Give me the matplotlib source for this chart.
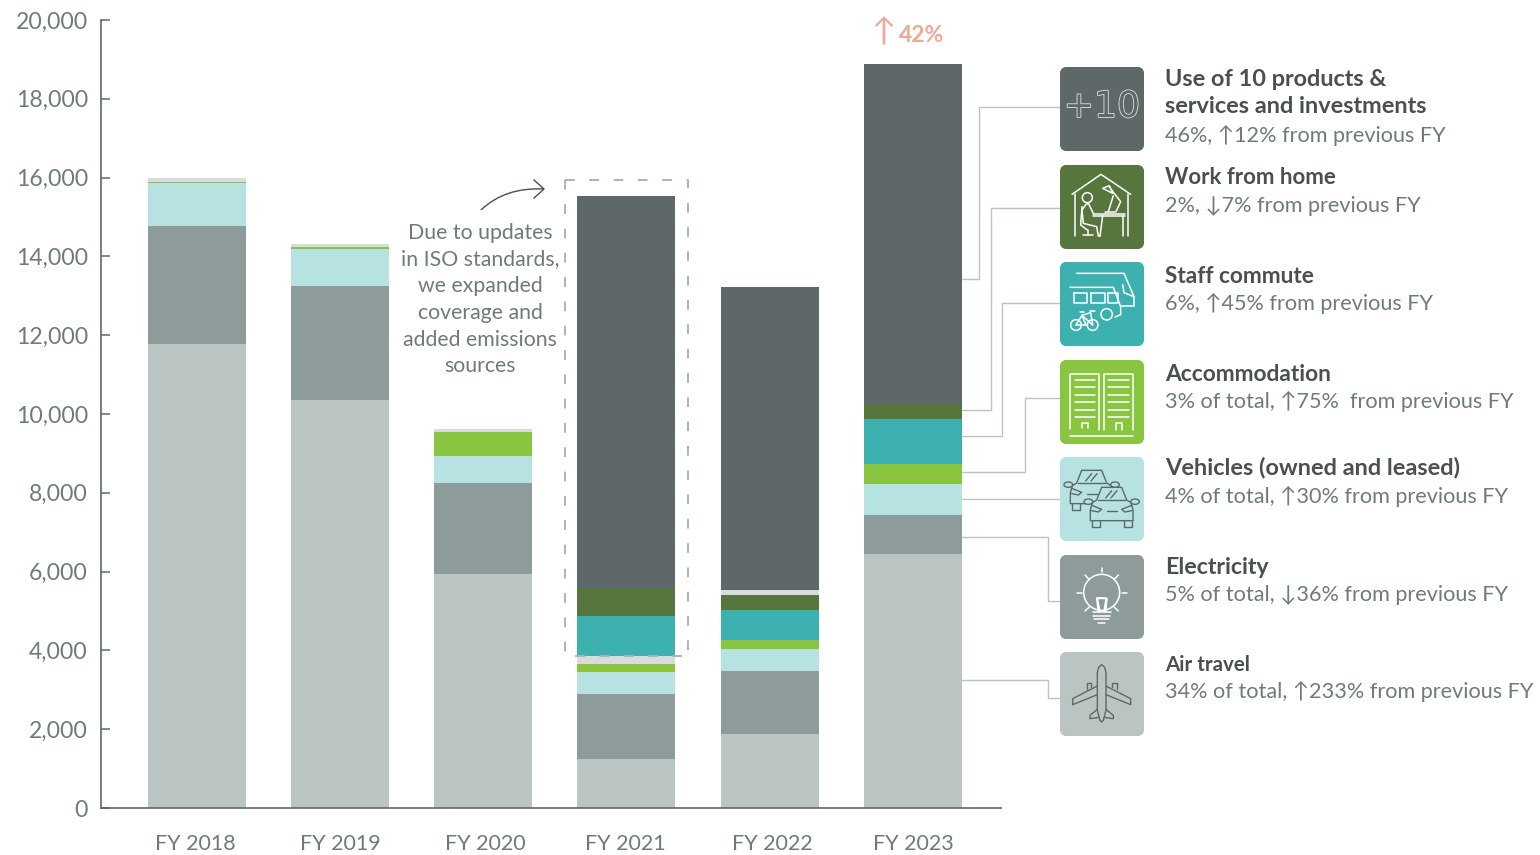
import numpy as np
import matplotlib
matplotlib.use('Agg')
import matplotlib.pyplot as plt
from matplotlib.patches import PathPatch, Circle, Rectangle, Ellipse, Polygon
from matplotlib.path import Path
from matplotlib.transforms import ScaledTranslation
import matplotlib.patheffects as pe

plt.rcParams['font.family'] = ['Lato', 'Noto Sans CJK SC', 'DejaVu Sans']

# values
years = ['FY 2018', 'FY 2019', 'FY 2020', 'FY 2021', 'FY 2022', 'FY 2023']
air_travel = [11777, 10355, 5939, 1244, 1878, 6447]
electricity = [2995, 2893, 2310, 1649, 1599, 989]
vehicles = [1091, 940, 685, 559, 558, 787]
accommodation = [25, 62, 609, 203, 229, 508]
other_low = [102, 64, 76, 203, 0, 0]
staff_commute = [0, 0, 0, 1015, 761, 1142]
work_from_home = [0, 0, 0, 711, 381, 381]
other_high = [0, 0, 0, 0, 127, 0]
products = [0, 0, 0, 9949, 7690, 8629]
y_ticks = [0, 2000, 4000, 6000, 8000, 10000, 12000, 14000, 16000, 18000, 20000]

headers = ['Use of 10 products &\nservices and investments', 'Work from home', 'Staff commute',
           'Accommodation', 'Vehicles (owned and leased)', 'Electricity', 'Air travel']
details = ['46%, ↑12% from previous FY', '2%, ↓7% from previous FY', '6%, ↑45% from previous FY',
           '3% of total, ↑75%  from previous FY', '4% of total, ↑30% from previous FY',
           '5% of total, ↓36% from previous FY', '34% of total, ↑233% from previous FY']

C_PROD, C_WFH, C_COMM, C_ACC = '#5F6869', '#57763E', '#3CB1B0', '#89C540'
C_VEH, C_ELEC, C_AIR, C_OTHER = '#B6E2E2', '#8D9C9B', '#BAC5C3', '#D8DCDB'
C_TEXT, C_HEAD = '#6F7B7A', '#4A4F4F'

W, H = 1540, 855
STEP = 143.15
fig = plt.figure(figsize=(W / 100, H / 100), dpi=100)
ax = fig.add_axes([101 / W, (H - 808) / H, 900 / W, 788 / H])

# stacked bars
series = [(air_travel, C_AIR), (electricity, C_ELEC), (vehicles, C_VEH), (accommodation, C_ACC),
          (other_low, C_OTHER), (staff_commute, C_COMM), (work_from_home, C_WFH),
          (other_high, C_OTHER), (products, C_PROD)]
x = np.arange(len(years))
bottom = np.zeros(len(years))
for vals, col in series:
    ax.bar(x, vals, 98 / STEP, bottom=bottom, color=col, linewidth=0)
    bottom += np.array(vals)

ax.set_xlim((101 - 197) / STEP, (1001 - 197) / STEP)
ax.set_ylim(0, 20000)
for s in ['top', 'right']:
    ax.spines[s].set_visible(False)
for s in ['left', 'bottom']:
    ax.spines[s].set_color(C_PROD)
    ax.spines[s].set_linewidth(1.2)
ax.set_yticks(y_ticks)
ax.set_yticklabels([f'{v:,}' for v in y_ticks], fontsize=16.6, color=C_TEXT)
ax.tick_params(axis='y', direction='in', length=6.5, width=1.1, color=C_PROD, pad=9.5)
# the labels sit a little off the bar centres in the original
label_px = [195, 340, 485, 625, 772, 913]
ax.set_xticks([(p - 197) / STEP for p in label_px])
ax.set_xticklabels(years, fontsize=15.5, color=C_TEXT)
ax.tick_params(axis='x', length=0, pad=18.5)

# overlay in pixel coordinates for notes, leaders and icons
ov = fig.add_axes([0, 0, 1, 1], zorder=5)
ov.set_xlim(0, W)
ov.set_ylim(H, 0)
ov.axis('off')
ov.patch.set_alpha(0)

ov.text(883, 32, '↑', color='#F2A793', fontsize=23, ha='center', va='center')
ov.text(899, 35.5, '42%', color='#F2A793', fontsize=16.5, fontweight='bold', ha='left', va='center')

note = 'Due to updates\nin ISO standards,\nwe expanded\ncoverage and\nadded emissions\nsources'
ov.text(480, 299.5, note, color=C_TEXT, fontsize=15.3, ha='center', va='center', linespacing=1.42)

# curved arrow to the dashed box
ov.add_patch(PathPatch(Path([(481, 210), (505, 187), (544, 189)], [Path.MOVETO, Path.CURVE3, Path.CURVE3]),
                       fc='none', ec=C_HEAD, lw=1))
ov.plot([534, 544, 534], [180, 189, 198], color=C_HEAD, lw=1)

# dashed box round FY 2021
ov.plot([682, 565, 565], [656, 656, 180], color='#A9B5B3', lw=1.4, dashes=(5, 7.5))
ov.plot([565, 688, 688], [180, 180, 656], color='#A9B5B3', lw=1.4, dashes=(5, 7.5))

# leader lines
leaders = [[(962, 279), (979, 279), (979, 107), (1060, 107)],
           [(962, 410), (991, 410), (991, 208), (1060, 208)],
           [(962, 436), (1002, 436), (1002, 303), (1060, 303)],
           [(962, 472), (1025, 472), (1025, 398), (1060, 398)],
           [(962, 499), (1060, 499)],
           [(962, 537), (1048, 537), (1048, 601), (1060, 601)],
           [(962, 680), (1048, 680), (1048, 698), (1060, 698)]]
for pts in leaders:
    ov.plot(*zip(*pts), color='#BAC5C3', lw=1)

box_y = [67, 165, 262, 360, 457, 555, 652]
box_cols = [C_PROD, C_WFH, C_COMM, C_ACC, C_VEH, C_ELEC, C_AIR]
for y0, col in zip(box_y, box_cols):
    ov.add_patch(Rectangle((1060, y0 + 6), 84, 72, fc=col, ec='none', zorder=2))
    ov.add_patch(Rectangle((1066, y0), 72, 84, fc=col, ec='none', zorder=2))
    for cx, cy in [(1066, y0 + 6), (1138, y0 + 6), (1066, y0 + 78), (1138, y0 + 78)]:
        ov.add_patch(Circle((cx, cy), 6, fc=col, ec='none', zorder=2))


def draw(y0, lines, color='white', lw=1.1, z=4):
    # line coordinates are in 3x units from the box corner
    for ln in lines:
        a = np.array(ln, dtype=float) / 3
        ov.plot(1060 + a[:, 0], y0 + a[:, 1], color=color, lw=lw, zorder=z, solid_capstyle='round')


def ring(y0, cx, cy, r, color='white', lw=1.1, z=4):
    ov.add_patch(Circle((1060 + cx / 3, y0 + cy / 3), r / 3, fc='none', ec=color, lw=lw, zorder=z))


# +10
ov.text(1102, 107, '+10', color=C_PROD, fontsize=26, fontfamily='DejaVu Sans', ha='center', va='center', zorder=4,
        path_effects=[pe.Stroke(linewidth=1.2, foreground='#DDE3E2'), pe.Normal()])

# home office
y0 = box_y[1]
draw(y0, [[(36, 88), (123, 28), (212, 88)], [(46, 86), (46, 213)], [(203, 86), (203, 213)],
          [(100, 146), (196, 146)], [(100, 152), (196, 152)], [(128, 152), (120, 213)], [(188, 152), (188, 213)],
          [(160, 92), (145, 140)], [(135, 140), (165, 140)], [(158, 85), (128, 70), (148, 62), (158, 85)],
          [(148, 66), (182, 110), (168, 140)], [(85, 115), (78, 118), (66, 135), (70, 175), (110, 185), (115, 213), (120, 213)],
          [(85, 115), (100, 145)], [(66, 125), (62, 180), (82, 195)], [(84, 195), (84, 210)], [(68, 210), (100, 210)]])
ring(y0, 82, 98, 15)

# commuting
y0 = box_y[2]
draw(y0, [[(50, 34), (192, 34), (222, 104), (222, 132), (185, 132)], [(188, 68), (192, 92), (222, 104)],
          [(30, 76), (160, 76), (182, 134), (182, 158), (165, 165)]])
for xa, xb in [(42, 82), (94, 134), (145, 175)]:
    draw(y0, [[(xa, 94), (xb, 94), (xb, 124), (xa, 124), (xa, 94)]])
ring(y0, 140, 157, 17)
ring(y0, 48, 189, 16)
ring(y0, 98, 189, 16)
draw(y0, [[(48, 189), (66, 160), (98, 189)], [(66, 160), (92, 152), (98, 189)], [(60, 150), (72, 150)],
          [(90, 148), (104, 148)], [(66, 160), (78, 189), (48, 189)]])

# building
y0 = box_y[3]
draw(y0, [[(30, 207), (30, 42), (118, 42), (118, 210)], [(133, 210), (133, 42), (220, 42), (220, 210)], [(30, 229), (220, 229)]])
for yy in [60, 82, 104, 127, 150, 172]:
    draw(y0, [[(44, yy), (106, yy)], [(145, yy), (208, yy)]])
draw(y0, [[(66, 205), (66, 190), (84, 190), (84, 205)], [(168, 210), (168, 190), (186, 190), (186, 210)]])


def car(y0, cx, cy, color, z=4):
    # cx, cy is the middle of the car, in the same 3x units
    outline = [(-58, 0), (-45, -8), (-30, -46), (30, -46), (45, -8), (58, 0), (64, 22), (64, 54), (-64, 54), (-64, 22)]
    ln = [[(cx + a, cy + b) for a, b in outline + outline[:1]],
          [(cx - 40, cy - 8), (cx + 40, cy - 8)],
          [(cx - 60, cy + 54), (cx - 60, cy + 72), (cx - 36, cy + 72), (cx - 36, cy + 54)],
          [(cx + 60, cy + 54), (cx + 60, cy + 72), (cx + 36, cy + 72), (cx + 36, cy + 54)],
          [(cx - 60, cy + 8), (cx - 30, cy + 20), (cx - 40, cy + 28), (cx - 60, cy + 24)],
          [(cx + 60, cy + 8), (cx + 30, cy + 20), (cx + 40, cy + 28), (cx + 60, cy + 24)],
          [(cx - 15, cy + 24), (cx + 15, cy + 24)],
          [(cx - 18, cy - 14), (cx, cy - 36)], [(cx - 2, cy - 14), (cx + 16, cy - 36)]]
    if z > 4:
        ov.add_patch(Polygon([(1060 + (cx + a) / 3, y0 + (cy + b) / 3) for a, b in outline], fc=C_VEH, ec='none', zorder=z - 0.5))
    draw(y0, ln, color=color, lw=1.0, z=z)
    for sx in (-1, 1):
        ov.add_patch(Ellipse((1060 + (cx + sx * 70) / 3, y0 + (cy - 3) / 3), 26 / 3, 16 / 3, fc=C_VEH, ec=color, lw=1.0, zorder=z))


# cars
car(box_y[4], 95, 86, C_PROD)
car(box_y[4], 155, 137, C_PROD, z=5)

# bulb
y0 = box_y[5]
ring(y0, 125, 112, 54)
draw(y0, [[(110, 130), (115, 170), (120, 170), (112, 130), (138, 130), (132, 170), (137, 170), (141, 130), (110, 130)],
          [(98, 172), (152, 172)], [(100, 182), (150, 182)], [(102, 192), (148, 192)], [(115, 204), (135, 204)],
          [(125, 40), (125, 52)], [(75, 60), (88, 74)], [(175, 60), (162, 74)], [(50, 114), (65, 114)],
          [(185, 114), (202, 114)], [(75, 168), (88, 156)], [(175, 168), (162, 156)]])

# plane
y0 = box_y[6]
draw(y0, [[(112, 62), (116, 46), (125, 38), (134, 46), (138, 62), (138, 175), (130, 205), (125, 210), (120, 205), (112, 175), (112, 62)],
          [(112, 102), (38, 140), (38, 158), (112, 128)], [(138, 102), (212, 140), (212, 158), (138, 128)],
          [(80, 112), (80, 94), (94, 94), (94, 104)], [(156, 104), (156, 94), (170, 94), (170, 112)],
          [(112, 172), (90, 190), (90, 200), (118, 196)], [(138, 172), (160, 190), (160, 200), (132, 196)]],
     color=C_PROD, lw=1.0)

# legend text
head_y = [93, 178, 276, 374, 467.5, 567, 665]
head_size = [16.9, 16, 16.3, 16.4, 16.9, 16.7, 14.8]
detail_y = [135, 206, 303, 401, 496, 595, 691]
for i, (hd, dt) in enumerate(zip(headers, details)):
    ov.text(1165, head_y[i], hd, color=C_HEAD, fontsize=head_size[i], fontweight='bold', va='center', ha='left', linespacing=1.4)
    ov.text(1165, detail_y[i], dt, color=C_TEXT, fontsize=15.6, va='center', ha='left')

fig.savefig('out.png', dpi=100)
